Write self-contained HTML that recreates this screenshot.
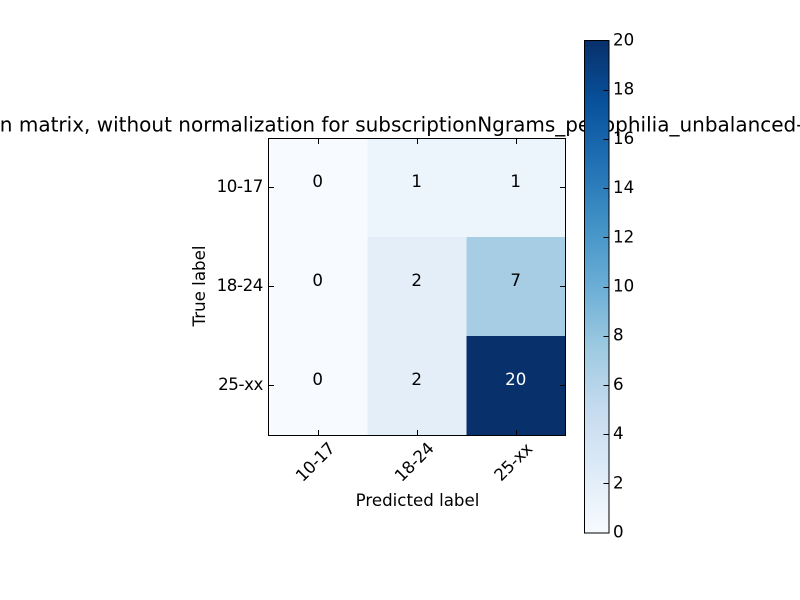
<!DOCTYPE html>
<html>
<head>
<meta charset="utf-8">
<style>
html,body{margin:0;padding:0;background:#fff;width:800px;height:600px;overflow:hidden}
svg{display:block}
text{font-family:"DejaVu Sans","Liberation Sans",sans-serif;fill:#000}
</style>
</head>
<body>
<svg id="chart" xmlns="http://www.w3.org/2000/svg" width="800" height="600" viewBox="0 0 800 600">
  <defs>
    <linearGradient id="blues" x1="0" y1="1" x2="0" y2="0">
      <stop offset="0" stop-color="#f7fbff"/>
      <stop offset="0.125" stop-color="#deebf7"/>
      <stop offset="0.25" stop-color="#c6dbef"/>
      <stop offset="0.375" stop-color="#9ecae1"/>
      <stop offset="0.5" stop-color="#6baed6"/>
      <stop offset="0.625" stop-color="#4292c6"/>
      <stop offset="0.75" stop-color="#2171b5"/>
      <stop offset="0.875" stop-color="#08519c"/>
      <stop offset="1" stop-color="#08306b"/>
    </linearGradient>
  </defs>
  <g id="cells"></g>
  <g id="cell-labels"></g>
  <rect x="268.5" y="138.5" width="297" height="297" fill="none" stroke="#000" stroke-width="1"/>
  <g id="axis-ticks"></g>
  <g id="axis-labels"></g>
  <text x="417.5" y="506" text-anchor="middle" style="font-size:16.67px">Predicted label</text>
  <text transform="translate(205,286) rotate(-90)" text-anchor="middle" style="font-size:16.67px">True label</text>
  <text x="-87" y="131.5" style="font-size:20px">Confusion matrix, without normalization for subscriptionNgrams_pedophilia_unbalanced-features</text>
  <rect x="585" y="41" width="24" height="492" fill="url(#blues)"/>
  <rect x="584.5" y="40.5" width="24.5" height="492.5" fill="none" stroke="#000" stroke-width="1"/>
  <g id="colorbar-ticks"></g>
</svg>
<script>
const categories = ['10-17', '18-24', '25-xx'];
const matrixValues = [
  [0, 1, 1],
  [0, 2, 7],
  [0, 2, 20]
];
const colorbarTicks = [0, 2, 4, 6, 8, 10, 12, 14, 16, 18, 20];

const NS = 'http://www.w3.org/2000/svg';
const plot = { x: 268.5, y: 138.5, size: 297 };
const bar = { top: 41, bottom: 533, right: 609 };
const stops = ['#f7fbff', '#deebf7', '#c6dbef', '#9ecae1', '#6baed6', '#4292c6', '#2171b5', '#08519c', '#08306b'];
const maxValue = Math.max.apply(null, matrixValues.flat());
const colorMax = colorbarTicks[colorbarTicks.length - 1];

function hexToRgb(h) {
  return [1, 3, 5].map(function (i) { return parseInt(h.substr(i, 2), 16); });
}
function colorFor(v) {
  const t = Math.min(1, Math.max(0, v / maxValue)) * (stops.length - 1);
  const i = Math.min(stops.length - 2, Math.floor(t));
  const a = hexToRgb(stops[i]);
  const b = hexToRgb(stops[i + 1]);
  const f = t - i;
  return 'rgb(' + a.map(function (c, k) { return Math.round(c + (b[k] - c) * f); }).join(',') + ')';
}
function xScale(i) { return plot.x + (i + 0.5) * plot.size / categories.length; }
function yScale(i) { return plot.y - 0.5 + (i + 0.5) * plot.size / categories.length; }
function barScale(v) { return bar.bottom - (v / colorMax) * (bar.bottom - bar.top); }
function snap(p) { return Math.floor(p) + 0.5; }
function setAll(el, attrs) {
  Object.keys(attrs).forEach(function (k) { el.setAttribute(k, attrs[k]); });
  return el;
}
function tickLine(parent, x1, y1, x2, y2, name) {
  const el = setAll(document.createElementNS(NS, 'line'), { x1: x1, y1: y1, x2: x2, y2: y2, stroke: '#000', 'stroke-width': 1 });
  
  
  parent.appendChild(el);
}

const cellsG = document.getElementById('cells');
const cellLabelsG = document.getElementById('cell-labels');
const ticksG = document.getElementById('axis-ticks');
const labelsG = document.getElementById('axis-labels');
const barTicksG = document.getElementById('colorbar-ticks');
const ch = plot.size / categories.length;
const cw = ch + 0.34;

matrixValues.forEach(function (row, r) {
  row.forEach(function (v, c) {
    const rect = setAll(document.createElementNS(NS, 'rect'), {
      x: plot.x - 0.5 + c * cw, y: plot.y - 0.5 + r * ch, width: cw, height: ch,
      fill: colorFor(v), 'shape-rendering': 'crispEdges'
    });
    
    
    cellsG.appendChild(rect);

    const t = setAll(document.createElementNS(NS, 'text'), {
      x: xScale(c) - 0.3, y: yScale(r) - 0.5, 'text-anchor': 'middle'
    });
    t.style.fontSize = '16.67px';
    t.style.fill = v > maxValue / 2 ? '#fff' : '#000';
    t.textContent = String(v);
    
    
    cellLabelsG.appendChild(t);
  });
});

categories.forEach(function (label, i) {
  const x = snap(xScale(i));
  const y = snap(yScale(i));
  tickLine(ticksG, x, plot.y, x, plot.y + 5.5, 'x-tick-top-' + label);
  tickLine(ticksG, x, plot.y + plot.size, x, plot.y + plot.size - 5.5, 'x-tick-bottom-' + label);
  tickLine(ticksG, plot.x, y, plot.x + 5.5, y, 'y-tick-left-' + label);
  tickLine(ticksG, plot.x + plot.size, y, plot.x + plot.size - 5.5, y, 'y-tick-right-' + label);

  const xl = setAll(document.createElementNS(NS, 'text'), {
    transform: 'translate(' + (x + 0.7) + ',466) rotate(-45)', 'text-anchor': 'middle'
  });
  xl.style.fontSize = '16.67px';
  xl.style.letterSpacing = '-0.3px';
  xl.textContent = label;
  
  
  labelsG.appendChild(xl);

  const yl = setAll(document.createElementNS(NS, 'text'), {
    x: 263, y: y + 4.5, 'text-anchor': 'end'
  });
  yl.style.fontSize = '16.67px';
  yl.style.letterSpacing = '-0.4px';
  yl.textContent = label;
  
  
  labelsG.appendChild(yl);
});

colorbarTicks.forEach(function (v) {
  const y = barScale(v);
  if (v !== 0 && v !== colorMax) {
    tickLine(barTicksG, bar.right - 5.5, snap(y), bar.right, snap(y), 'colorbar-tick-' + v);
  }
  const t = setAll(document.createElementNS(NS, 'text'), { x: 613, y: y + 4.5 });
  t.style.fontSize = '16.67px';
  t.textContent = String(v);
  
  
  barTicksG.appendChild(t);
});
</script>
</body>
</html>
